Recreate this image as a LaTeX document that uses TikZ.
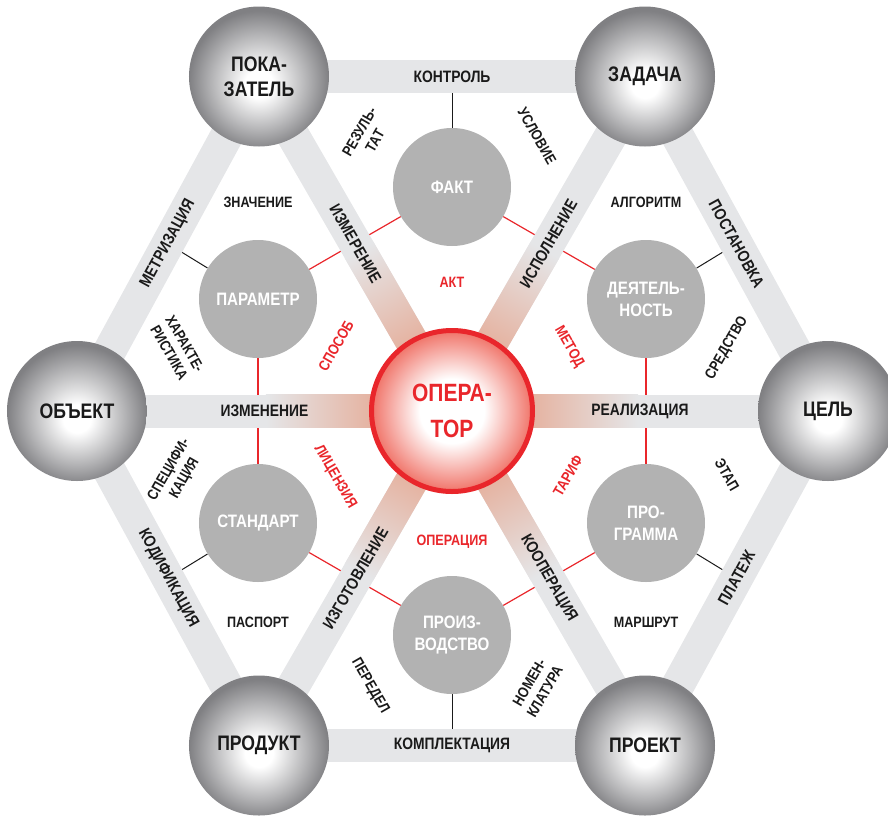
\documentclass[tikz,border=0pt]{standalone}
\usepackage{fontspec}
\setmainfont{Liberation Sans}[FakeStretch=0.84]
\usetikzlibrary{backgrounds,calc}

\definecolor{band}{RGB}{229,230,232}
\definecolor{glow}{RGB}{229,178,160}
\definecolor{orbmid}{RGB}{180,180,182}
\definecolor{orbedge}{RGB}{128,128,131}
\definecolor{cellgray}{RGB}{178,178,178}
\definecolor{opred}{RGB}{233,38,43}
\definecolor{coreedge}{RGB}{240,115,104}
\definecolor{ink}{RGB}{26,26,26}

\pgfdeclareradialshading{orb}{\pgfpoint{0bp}{-3bp}}{color(0bp)=(white); color(5bp)=(white); color(17bp)=(orbmid); color(25bp)=(orbedge); color(50bp)=(orbedge)}
\pgfdeclareradialshading{core}{\pgfpointorigin}{color(0bp)=(white); color(10bp)=(white); color(25bp)=(coreedge); color(50bp)=(coreedge)}

\tikzset{
  orbnode/.style={circle, minimum size=140pt, inner sep=0pt, shading=orb, text=ink, align=center, font=\fontsize{21}{25}\selectfont\bfseries},
  cell/.style={circle, minimum size=118pt, inner sep=0pt, fill=cellgray, text=white, align=center, font=\fontsize{18}{22}\selectfont\bfseries},
  opnode/.style={circle, minimum size=161pt, inner sep=0pt, shading=core, draw=opred, line width=5pt, text=opred, align=center, font=\fontsize{25}{36}\selectfont\bfseries},
  tag/.style={text=ink, align=center, inner sep=1pt, font=\fontsize{15}{18}\selectfont\bfseries},
  redtag/.style={tag, text=opred},
  bandtag/.style={text=ink, sloped, inner sep=1pt, font=\fontsize{16.5}{20}\selectfont\bfseries},
  strip/.style={draw=band, line width=33pt},
  link/.style={draw=opred, line width=1.2pt},
  tie/.style={draw=ink, line width=1pt}
}

\begin{document}
\begin{tikzpicture}[x=1pt, y=1pt]
\useasboundingbox (-452,-404) rectangle (436,411);

% outer ring
\node[orbnode] (pok) at (-193,334.5) {ПОКА-\\ЗАТЕЛЬ};
\node[orbnode] (zad) at (193,334.5) {ЗАДАЧА};
\node[orbnode] (cel) at (376,0) {ЦЕЛЬ};
\node[orbnode] (prj) at (193,-334.5) {ПРОЕКТ};
\node[orbnode] (prd) at (-193,-334.5) {ПРОДУКТ};
\node[orbnode] (obj) at (-375,0) {ОБЪЕКТ};

% inner ring
\node[cell] (fakt) at (0,224) {ФАКТ};
\node[cell] (deya) at (194,112) {ДЕЯТЕЛЬ-\\НОСТЬ};
\node[cell] (prog) at (194,-112) {ПРО-\\ГРАММА};
\node[cell] (proiz) at (0,-224) {ПРОИЗ-\\ВОДСТВО};
\node[cell] (stand) at (-194,-112) {СТАНДАРТ};
\node[cell] (param) at (-194,112) {ПАРАМЕТР};

\node[opnode] (op) at (0,0) {ОПЕРА-\\ТОР};

\begin{scope}[on background layer]
\foreach \a/\b in {fakt/deya, deya/prog, prog/proiz, proiz/stand, stand/param, param/fakt}
  \draw[link] (\a) -- (\b);
\foreach \c/\a/\b in {fakt/pok/zad, deya/zad/cel, prog/cel/prj, proiz/prj/prd, stand/prd/obj, param/obj/pok}
  \draw[tie] (\c) -- ($(\a)!.5!(\b)$);

\foreach \a/\b in {pok/zad, zad/cel, cel/prj, prj/prd, prd/obj, obj/pok}
  \draw[strip] (\a.center) -- (\b.center);
\foreach \a in {pok,zad,cel,prj,prd,obj}
  \draw[strip] (op.center) -- (\a.center);

% reddish glow round the operator
\foreach \r in {0,60,...,300}{
  \begin{scope}[transform canvas={rotate=\r}]
    \shade[left color=glow, right color=band] (78,-16.5) rectangle (186,16.5);
  \end{scope}
}
\end{scope}

% band labels
\foreach \a/\b/\t in {pok/zad/КОНТРОЛЬ, zad/cel/ПОСТАНОВКА, cel/prj/ПЛАТЕЖ,
    prj/prd/КОМПЛЕКТАЦИЯ, prd/obj/КОДИФИКАЦИЯ, obj/pok/МЕТРИЗАЦИЯ,
    op/pok/ИЗМЕРЕНИЕ, op/zad/ИСПОЛНЕНИЕ, op/cel/РЕАЛИЗАЦИЯ,
    op/prj/КООПЕРАЦИЯ, op/prd/ИЗГОТОВЛЕНИЕ, op/obj/ИЗМЕНЕНИЕ}
  \path (\a.center) -- node[bandtag] {\t} (\b.center);

% outer triangles
\node[tag, rotate=60] (rez) at (-85,275) {РЕЗУЛЬ-\\ТАТ};
\node[tag, rotate=-60] (usl) at (85,275) {УСЛОВИЕ};
\node[tag] (znach) at (-194,209) {ЗНАЧЕНИЕ};
\node[tag] (alg) at (194,209) {АЛГОРИТМ};
\node[tag, rotate=-60] (har) at (-275,63) {ХАРАКТЕ-\\РИСТИКА};
\node[tag, rotate=60] (sred) at (275,63) {СРЕДСТВО};
\node[tag, rotate=60] (spec) at (-275,-63) {СПЕЦИФИ-\\КАЦИЯ};
\node[tag, rotate=-60] (etap) at (275,-64) {ЭТАП};
\node[tag] (pasp) at (-194,-211) {ПАСПОРТ};
\node[tag] (marsh) at (194,-211) {МАРШРУТ};
\node[tag, rotate=-60] (pered) at (-82,-275) {ПЕРЕДЕЛ};
\node[tag, rotate=60] (nomen) at (85,-276) {НОМЕН-\\КЛАТУРА};

% inner triangles
\node[redtag] (akt) at (0,129) {АКТ};
\node[redtag, rotate=60] (spos) at (-116,65) {СПОСОБ};
\node[redtag, rotate=-60] (metod) at (117,64) {МЕТОД};
\node[redtag, rotate=-60] (lic) at (-117,-66) {ЛИЦЕНЗИЯ};
\node[redtag, rotate=60] (tarif) at (116,-65) {ТАРИФ};
\node[redtag] (oper) at (0,-131) {ОПЕРАЦИЯ};
\end{tikzpicture}
\end{document}
